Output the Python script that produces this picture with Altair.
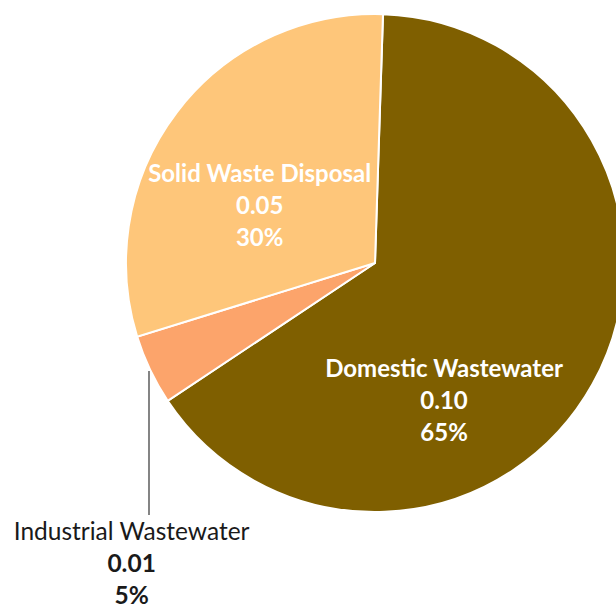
import math
import altair as alt
import pandas as pd

categories = ["Domestic Wastewater", "Industrial Wastewater", "Solid Waste Disposal"]
values = [0.0985, 0.0069, 0.0458]
colors = ["#7f5f00", "#fca46b", "#fec67a"]

total = sum(values)
df = pd.DataFrame({
    "idx": list(range(len(categories))),
    "category": categories,
    "value": values,
    "vlabel": [f"{v:.2f}" for v in values],
    "plabel": [f"{round(v / total * 100)}%" for v in values],
})

a0 = math.radians(1.84)
CX, CY = 375, 263

base = alt.Chart(df).encode(
    theta=alt.Theta("value:Q", stack=True, scale=alt.Scale(range=[a0, a0 + 2 * math.pi])),
    order=alt.Order("idx:Q"),
    x=alt.value(CX),
    y=alt.value(CY),
)

pie = base.mark_arc(outerRadius=249, stroke="white", strokeWidth=2).encode(
    color=alt.Color("category:N", scale=alt.Scale(domain=categories, range=colors), legend=None)
)


def label(cat, field, radius, dx, dy, color, weight, size):
    return base.transform_calculate(
        t=f"datum.category === '{cat}' ? datum.{field} : ''"
    ).mark_text(
        radius=radius, dx=dx, dy=dy, font="Lato", fontSize=size, fontWeight=weight,
        color=color, align="center", baseline="alphabetic",
    ).encode(text="t:N")


LH = 32
layers = [pie]
# Domestic Wastewater (inside, white)
for i, f in enumerate(["category", "vlabel", "plabel"]):
    layers.append(label("Domestic Wastewater", f, 150, -62, 41 + i * LH, "white", "bold", 24))
# Solid Waste Disposal (inside, white)
for i, f in enumerate(["category", "vlabel", "plabel"]):
    layers.append(label("Solid Waste Disposal", f, 150, 4, 10 + i * LH, "white", "bold", 24))
# Industrial Wastewater (outside, dark)
for i, (f, w) in enumerate([("category", "normal"), ("vlabel", "bold"), ("plabel", "bold")]):
    layers.append(label("Industrial Wastewater", f, 249, -18.5, 170 + i * LH, "#1a1a1a", w, 24.5))

leader = alt.Chart(df).transform_filter(
    alt.datum.category == "Industrial Wastewater"
).mark_rule(color="#333333", strokeWidth=1.2).encode(
    x=alt.value(149), y=alt.value(371), y2=alt.value(515)
)
layers.append(leader)

chart = alt.layer(*layers).properties(
    width=616, height=606, padding=0, autosize=alt.AutoSizeParams(type="none")
).configure_view(stroke=None)

chart.save("out.html", embed_options={"renderer": "svg", "actions": False})
